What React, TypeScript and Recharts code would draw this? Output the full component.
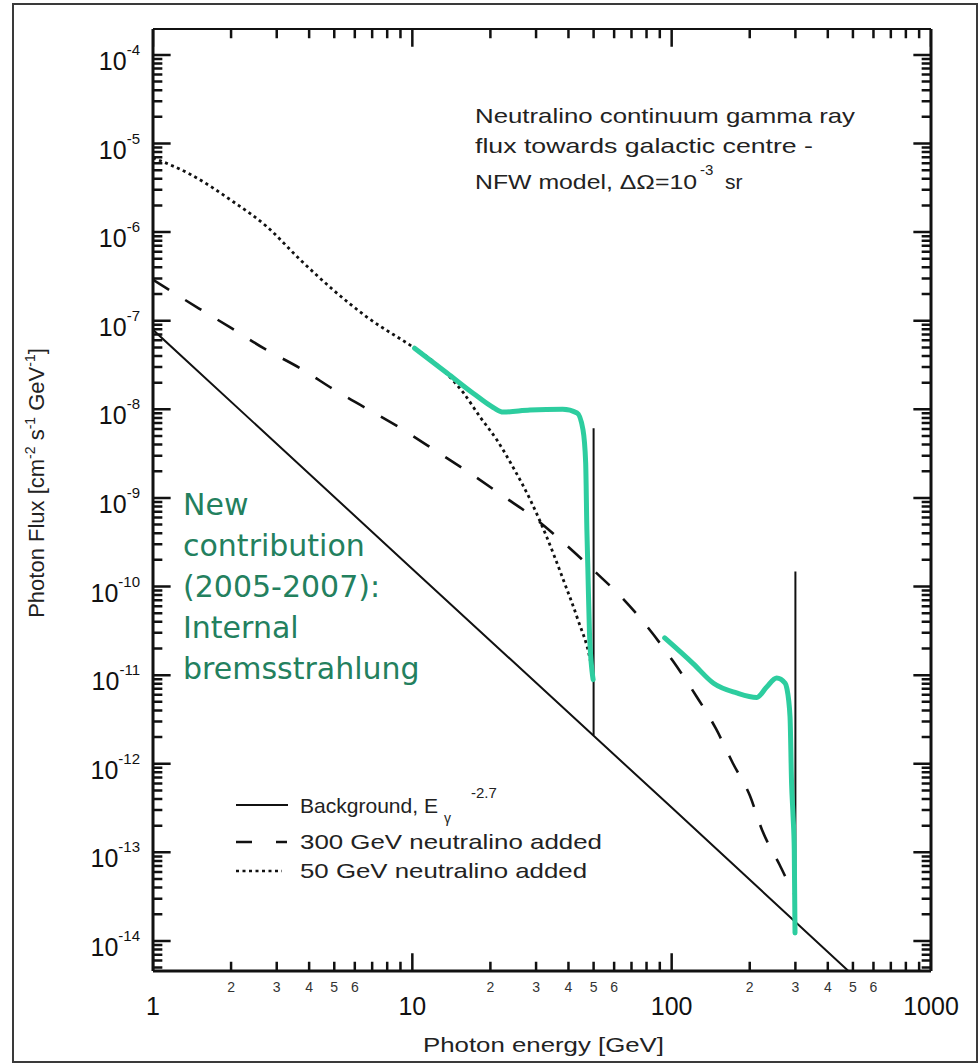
import React from "react";
import { LineChart, Line, XAxis, YAxis } from "recharts";

const WIDTH = 979;
const HEIGHT = 1063;
const FONT = "'Liberation Sans', Arial, Helvetica, sans-serif";
const INK = "#111111";
const IB_GREEN = "#2dcd9f";
const NOTE_GREEN = "#23805e";

// photon energy [GeV] and photon flux [cm^-2 s^-1 GeV^-1]
const backgroundEnergy = [1, 10, 100, 1000];
const backgroundFlux = [7.9e-8, 1.58e-10, 3.2e-13, 6.3e-16];

const neutralino300Energy = [
	1, 1.5, 2, 2.7, 3.7, 5, 9.2, 12.5, 16.7, 22.4, 29.9, 38.9, 50.9, 64.6, 79.4,
	101, 124, 148, 172, 200, 224, 261, 288, 300,
];
const neutralino300Flux = [
	2.9e-7, 1.38e-7, 8.3e-8, 4.8e-8, 2.9e-8, 1.66e-8, 5.9e-9, 3.3e-9, 1.9e-9,
	1.05e-9, 5.8e-10, 3.0e-10, 1.45e-10, 7.4e-11, 3.7e-11, 1.45e-11, 5.9e-12,
	2.5e-12, 1.02e-12, 4.4e-13, 1.74e-13, 7.2e-14, 4.0e-14, 3.2e-14,
];

const neutralino50Energy = [
	1, 1.39, 2.04, 2.75, 3.69, 4.94, 6.68, 10.2, 12, 13.6, 15.7, 18.3, 21.2, 24.5,
	28.5, 33, 38.3, 43.4, 48.5, 50,
];
const neutralino50Flux = [
	6.9e-6, 4.5e-6, 2.2e-6, 1.15e-6, 4.9e-7, 2.24e-7, 1.1e-7, 4.9e-8, 3.5e-8,
	2.5e-8, 1.55e-8, 8.1e-9, 4.5e-9, 2.2e-9, 9.5e-10, 3.6e-10, 1.17e-10, 4.3e-11,
	1.48e-11, 8.9e-12,
];

// internal bremsstrahlung (green) pieces
const ib50Energy = [
	10.2, 13.6, 17.2, 20.5, 22.4, 28.4, 38, 43.2, 45.5, 46.6, 47.1, 47.5, 48.2,
	49.8,
];
const ib50Flux = [
	4.9e-8, 2.57e-8, 1.51e-8, 1.05e-8, 9.3e-9, 9.8e-9, 1.0e-8, 9.1e-9, 5.9e-9,
	2.5e-9, 4.4e-10, 1.66e-10, 3.0e-11, 8.9e-12,
];
const ib300Energy = [
	94, 121, 145, 178, 213, 233, 254, 274, 278, 286, 290, 294, 297, 299,
];
const ib300Flux = [
	2.63e-11, 1.35e-11, 8.1e-12, 6.3e-12, 5.6e-12, 7.4e-12, 9.3e-12, 8.1e-12,
	7.1e-12, 3.4e-12, 6.0e-13, 2.5e-13, 1.07e-13, 1.23e-14,
];

// gamma lines
const line50Energy = [50, 50];
const line50Flux = [2.1e-12, 6.1e-9];
const line300Energy = [300, 300];
const line300Flux = [1.6e-14, 1.48e-10];

// axes
const X_DOMAIN = [1, 1000];
const Y_DOMAIN = [4.58e-15, 1.96e-4];
const xDecades = [1, 10, 100];
const xMajorTicks = [1, 10, 100, 1000];
const minorSteps = [2, 3, 4, 5, 6, 7, 8, 9];
const labelledMinor = [2, 3, 4, 5, 6];
const yExponents = [-15, -14, -13, -12, -11, -10, -9, -8, -7, -6, -5, -4];

const xTicks = [
	...xMajorTicks,
	...xDecades.flatMap((d) => minorSteps.map((m) => m * d)),
];
const yTicks = yExponents
	.flatMap((e) => [1, ...minorSteps].map((m) => m * Math.pow(10, e)))
	.filter((v) => v >= Y_DOMAIN[0] && v <= Y_DOMAIN[1]);

// texts
const noteLines = [
	"Neutralino continuum gamma ray",
	"flux towards galactic centre -",
];
const greenNote = [
	"New",
	"contribution",
	"(2005-2007):",
	"Internal",
	"bremsstrahlung",
];
const legendLabels = [
	"Background, E",
	"300 GeV neutralino added",
	"50 GeV neutralino added",
];

const toPoints = (xs: number[], ys: number[]) =>
	xs.map((x, i) => ({ x, y: ys[i] }));

function isMajor(v: number) {
	const l = Math.log10(v);
	return Math.abs(l - Math.round(l)) < 1e-6;
}
function mantissa(v: number) {
	return Math.round(v / Math.pow(10, Math.floor(Math.log10(v) + 1e-9)));
}

// inward tick marks, as one broken line through the axis scales
// (tick length in decades: the x decade is ~3x wider than the y decade)
const X_TICK = { minor: 0.036, major: 0.068 };
const Y_TICK = { minor: 0.105, major: 0.2 };
const tickMarks: { x: number; y: number | null }[] = [];
yTicks.forEach((v) => {
	const f = Math.pow(10, isMajor(v) ? X_TICK.major : X_TICK.minor);
	tickMarks.push({ x: X_DOMAIN[0], y: v }, { x: X_DOMAIN[0] * f, y: v }, { x: X_DOMAIN[0] * f, y: null });
	tickMarks.push({ x: X_DOMAIN[1] / f, y: v }, { x: X_DOMAIN[1], y: v }, { x: X_DOMAIN[1], y: null });
});
xTicks.forEach((v) => {
	const f = Math.pow(10, isMajor(v) ? Y_TICK.major : Y_TICK.minor);
	tickMarks.push({ x: v, y: Y_DOMAIN[0] }, { x: v, y: Y_DOMAIN[0] * f }, { x: v, y: null });
	tickMarks.push({ x: v, y: Y_DOMAIN[1] / f }, { x: v, y: Y_DOMAIN[1] }, { x: v, y: null });
});

function EmptyTick() {
	return <g />;
}

function LeftTick(props: any) {
	const x = Number(props.x);
	const y = Number(props.y);
	const v = props.payload.value;
	if (!isMajor(v)) return <g />;
	return (
		<text x={x - 13} y={y + 15} textAnchor="end" fontFamily={FONT} fontSize={25} fill={INK}>
			10
			<tspan dy={-15} fontSize={15}>
				{Math.round(Math.log10(v))}
			</tspan>
		</text>
	);
}

function BottomTick(props: any) {
	const x = Number(props.x);
	const y = Number(props.y);
	const v = props.payload.value;
	const m = mantissa(v);
	if (isMajor(v)) {
		return (
			<text x={x} y={y + 44} textAnchor="middle" fontFamily={FONT} fontSize={25} fill={INK}>
				{String(v)}
			</text>
		);
	}
	if (labelledMinor.includes(m)) {
		return (
			<text x={x} y={y + 21} textAnchor="middle" fontFamily={FONT} fontSize={14} fill="#333">
				{m}
			</text>
		);
	}
	return <g />;
}

function Annotations() {
	return (
		<svg
			width={WIDTH}
			height={HEIGHT}
			style={{ position: "absolute", left: 0, top: 0, pointerEvents: "none" }}
		>
			<rect x={13} y={4} width={964} height={1058} fill="none" stroke="#3a3a3a" strokeWidth={2} />

			{/* annotation */}
			<g fontFamily={FONT} fontSize={21} fill="#222">
				<text x={475} y={123} textLength={380} lengthAdjust="spacingAndGlyphs">
					{noteLines[0]}
				</text>
				<text x={475} y={153} textLength={338} lengthAdjust="spacingAndGlyphs">
					{noteLines[1]}
				</text>
				<text x={475} y={189} textLength={222} lengthAdjust="spacingAndGlyphs">
					NFW model, ΔΩ=10
				</text>
				<text x={700} y={175} fontSize={15}>-3</text>
				<text x={725} y={189}>sr</text>
			</g>

			{/* green note */}
			<g fontFamily="'Comic Sans MS', 'DejaVu Sans', sans-serif" fontSize={30} fill={NOTE_GREEN}>
				{greenNote.map((t, i) => (
					<text key={t} x={183} y={515 + i * 41}>
						{t}
					</text>
				))}
			</g>

			{/* legend */}
			<line x1={236} y1={805} x2={288} y2={805} stroke={INK} strokeWidth={2} />
			<line x1={236} y1={842} x2={287} y2={842} stroke={INK} strokeWidth={2.6} strokeDasharray="16 24" />
			<line x1={236} y1={871} x2={282} y2={871} stroke={INK} strokeWidth={2.6} strokeDasharray="3 3.5" />
			<g fontFamily={FONT} fontSize={21} fill="#222">
				<text x={300} y={813} textLength={138} lengthAdjust="spacingAndGlyphs">
					{legendLabels[0]}
				</text>
				<text x={444} y={823} fontSize={14}>γ</text>
				<text x={471} y={798} fontSize={15}>-2.7</text>
				<text x={300} y={849} textLength={302} lengthAdjust="spacingAndGlyphs">
					{legendLabels[1]}
				</text>
				<text x={300} y={878} textLength={287} lengthAdjust="spacingAndGlyphs">
					{legendLabels[2]}
				</text>
			</g>

			{/* axis titles */}
			<text
				x={423}
				y={1052}
				fontFamily={FONT}
				fontSize={21}
				fill="#222"
				textLength={241}
				lengthAdjust="spacingAndGlyphs"
			>
				Photon energy [GeV]
			</text>
			<text
				transform="rotate(-90)"
				x={-483}
				y={44}
				textAnchor="middle"
				fontFamily={FONT}
				fontSize={22}
				fill="#222"
			>
				Photon Flux [cm
				<tspan dy={-9} fontSize={14}>-2</tspan>
				<tspan dy={9}> s</tspan>
				<tspan dy={-9} fontSize={14}>-1</tspan>
				<tspan dy={9}> GeV</tspan>
				<tspan dy={-9} fontSize={14}>-1</tspan>
				<tspan dy={9}>]</tspan>
			</text>
		</svg>
	);
}

export default function App() {
	return (
		<div style={{ position: "absolute", left: 0, top: 0, width: WIDTH, height: HEIGHT, background: "#fff" }}>
			<Annotations />
			<div style={{ position: "absolute", left: 0, top: 0 }}>
				<LineChart width={WIDTH} height={HEIGHT} margin={{ top: 0, right: 0, bottom: 0, left: 0 }}>
					<XAxis
						dataKey="x"
						type="number"
						scale="log"
						domain={X_DOMAIN}
						allowDataOverflow
						ticks={xTicks}
						interval={0}
						tickSize={0}
						tickMargin={0}
						height={92}
						axisLine={{ stroke: INK, strokeWidth: 3 }}
						tickLine={false}
						tick={<BottomTick />}
					/>
					<XAxis
						xAxisId="top"
						orientation="top"
						dataKey="x"
						type="number"
						scale="log"
						domain={X_DOMAIN}
						allowDataOverflow
						height={29}
						axisLine={{ stroke: INK, strokeWidth: 2 }}
						tickLine={false}
						tick={<EmptyTick />}
					/>
					<YAxis
						type="number"
						scale="log"
						domain={Y_DOMAIN}
						allowDataOverflow
						ticks={yTicks}
						interval={0}
						tickSize={0}
						tickMargin={0}
						width={153}
						axisLine={{ stroke: INK, strokeWidth: 3 }}
						tickLine={false}
						tick={<LeftTick />}
					/>
					<YAxis
						yAxisId="right"
						orientation="right"
						type="number"
						scale="log"
						domain={Y_DOMAIN}
						allowDataOverflow
						width={48}
						axisLine={{ stroke: INK, strokeWidth: 3 }}
						tickLine={false}
						tick={<EmptyTick />}
					/>

					<Line
						data={tickMarks}
						dataKey="y"
						type="linear"
						stroke={INK}
						strokeWidth={2.5}
						connectNulls={false}
						dot={false}
						activeDot={false}
						isAnimationActive={false}
					/>

					<Line
						data={toPoints(backgroundEnergy, backgroundFlux)}
						dataKey="y"
						type="linear"
						stroke={INK}
						strokeWidth={2}
						dot={false}
						activeDot={false}
						isAnimationActive={false}
					/>
					<Line
						data={toPoints(neutralino300Energy, neutralino300Flux)}
						dataKey="y"
						type="monotone"
						stroke={INK}
						strokeWidth={2.6}
						strokeDasharray="19 19"
						dot={false}
						activeDot={false}
						isAnimationActive={false}
					/>
					<Line
						data={toPoints(neutralino50Energy, neutralino50Flux)}
						dataKey="y"
						type="monotone"
						stroke={INK}
						strokeWidth={2.8}
						strokeDasharray="3 3.5"
						dot={false}
						activeDot={false}
						isAnimationActive={false}
					/>
					<Line
						data={toPoints(line50Energy, line50Flux)}
						dataKey="y"
						type="linear"
						stroke={INK}
						strokeWidth={2}
						dot={false}
						activeDot={false}
						isAnimationActive={false}
					/>
					<Line
						data={toPoints(line300Energy, line300Flux)}
						dataKey="y"
						type="linear"
						stroke={INK}
						strokeWidth={2}
						dot={false}
						activeDot={false}
						isAnimationActive={false}
					/>
					<Line
						data={toPoints(ib50Energy, ib50Flux)}
						dataKey="y"
						type="monotone"
						stroke={IB_GREEN}
						strokeWidth={5}
						strokeLinecap="round"
						dot={false}
						activeDot={false}
						isAnimationActive={false}
					/>
					<Line
						data={toPoints(ib300Energy, ib300Flux)}
						dataKey="y"
						type="monotone"
						stroke={IB_GREEN}
						strokeWidth={5}
						strokeLinecap="round"
						dot={false}
						activeDot={false}
						isAnimationActive={false}
					/>
				</LineChart>
			</div>
		</div>
	);
}
